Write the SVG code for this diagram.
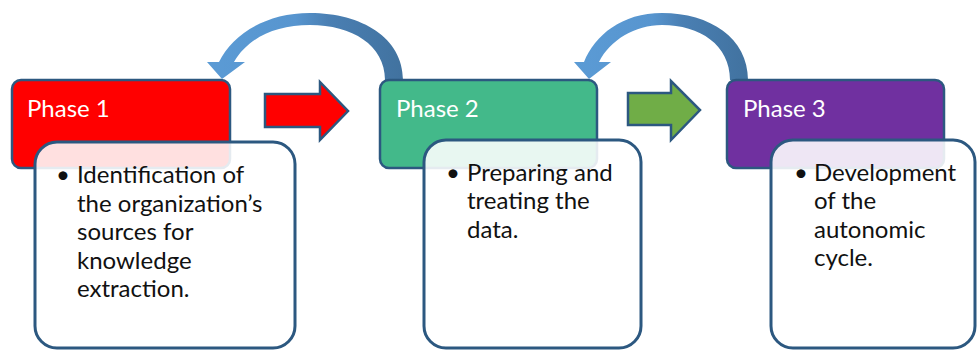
<svg xmlns="http://www.w3.org/2000/svg" width="978" height="350" viewBox="0 0 978 350">
<defs>
<linearGradient id="curveGrad" x1="0" y1="0" x2="1" y2="0">
<stop offset="0" stop-color="#5B9BD5"/>
<stop offset="0.45" stop-color="#5795CF"/>
<stop offset="0.62" stop-color="#4A7FB3"/>
<stop offset="1" stop-color="#41729F"/>
</linearGradient>
<style>
.phase{stroke:#2C5880;stroke-width:2.5}
.detail{fill:#FFFFFF;fill-opacity:0.88;stroke:#2C5880;stroke-width:3}
.title{font-family:Lato,"Open Sans",sans-serif;font-size:24px;fill:#FFFFFF}
.body{font-family:Lato,"Open Sans",sans-serif;font-size:24px;fill:#111111}
.curve{fill:url(#curveGrad);stroke:none}
.block{stroke:#2C5880;stroke-width:2.5;stroke-linejoin:miter}
</style>
</defs>
<rect width="978" height="350" fill="#FFFFFF"/>
<g id="connectors">
<path class="curve" d="M403 80 C403 38 362 13 310 13 C265 13 232 35 219 62 L207 62 L222 79 L245 62 L234 62 C248 38 275 25 310 25 C352 25 385 45 385 80 Z"/>
<path class="curve" d="M748 80 C748 38 710 13 662 13 C622 13 595 35 584 62 L574 62 L589 79 L611 62 L599 62 C610 40 635 25 662 25 C700 25 730 45 730 80 Z"/>
<path class="block" fill="#FF0000" d="M265 94 L320 94 L320 82 L348 111 L320 140 L320 127 L265 127 Z"/>
<path class="block" fill="#70AD47" d="M628 93 L671 93 L671 81 L700 110 L671 140 L671 125 L628 125 Z"/>
</g>
<g id="phase1">
<rect class="phase" x="12" y="80" width="218" height="88" rx="9" fill="#FF0000"/>
<text class="title" x="27" y="117">Phase 1</text>
<rect class="detail" x="35" y="142" width="260" height="206" rx="22"/>
<text class="body" x="56" y="183">•</text>
<text class="body"><tspan x="77" y="183">Identification of</tspan><tspan x="77" y="212">the organization’s</tspan><tspan x="77" y="240">sources for</tspan><tspan x="77" y="269">knowledge</tspan><tspan x="77" y="297">extraction.</tspan></text>
</g>
<g id="phase2">
<rect class="phase" x="380" y="80" width="217" height="88" rx="9" fill="#43B98A"/>
<text class="title" x="396" y="117">Phase 2</text>
<rect class="detail" x="424" y="140" width="217" height="208" rx="22"/>
<text class="body" x="446" y="181">•</text>
<text class="body"><tspan x="467" y="181">Preparing and</tspan><tspan x="467" y="209">treating the</tspan><tspan x="467" y="238">data.</tspan></text>
</g>
<g id="phase3">
<rect class="phase" x="727" y="80" width="217" height="88" rx="9" fill="#7030A0"/>
<text class="title" x="743" y="117">Phase 3</text>
<rect class="detail" x="771" y="140" width="204" height="208" rx="22"/>
<text class="body" x="794" y="181">•</text>
<text class="body"><tspan x="814" y="181">Development</tspan><tspan x="814" y="209">of the</tspan><tspan x="814" y="238">autonomic</tspan><tspan x="814" y="266">cycle.</tspan></text>
</g>
</svg>
